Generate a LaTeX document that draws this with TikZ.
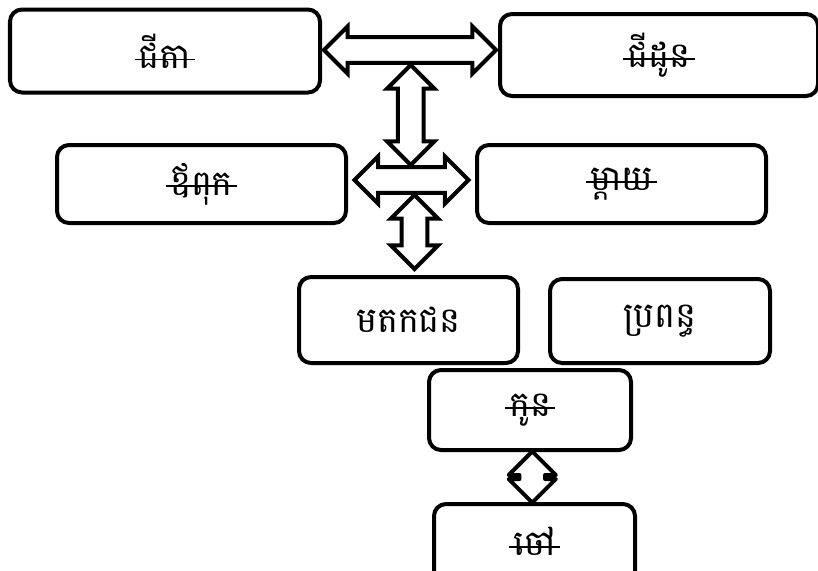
\documentclass[tikz,border=0pt]{standalone}
\usepackage{fontspec}
\newfontfamily\khmer[Script=Khmer]{Battambang}
\usetikzlibrary{positioning,calc,shapes.arrows}

\newsavebox\kstrikebox
\newcommand\kstrike[1]{\sbox\kstrikebox{#1}\makebox[0pt][l]{\hspace{-3pt}\raisebox{0.22em}{\rule{\dimexpr\wd\kstrikebox+6pt\relax}{1.4pt}}}\usebox\kstrikebox}

\tikzset{
	kbox/.style={draw, line width=0.1cm, rounded corners=0.3cm, inner sep=0pt, font=\khmer\fontsize{25}{30}\selectfont},
	karrow/.style={draw, double arrow, line width=0.1cm, inner sep=0.27cm, double arrow head extend=0.27cm}
}

\begin{document}
\begin{tikzpicture}
		\useasboundingbox (0,0) rectangle (20.45,-14.25);
		\node[kbox, minimum width=7.75cm, minimum height=2.075cm] (jita) at (4.125,-1.275) {\kstrike{ជីតា}};
		\node[kbox, minimum width=7.95cm, minimum height=2.05cm] (jidaun) at (16.475,-1.375) {\kstrike{ជីដូន}};
		\node[kbox, minimum width=7.225cm, minimum height=1.95cm] (ovpuk) at (5.0375,-4.6) {\kstrike{ឪពុក}};
		\node[kbox, minimum width=7.225cm, minimum height=1.95cm] (mday) at (15.5375,-4.6) {\kstrike{ម្តាយ}};
		\node[kbox, minimum width=5.475cm, minimum height=2.15cm] (morodok) at (10.2125,-8) {មតកជន};
		\node[kbox, minimum width=5.5cm, minimum height=2.1cm] (propon) at (16.5,-8.025) {ប្រពន្ធ};
		\node[kbox, minimum width=5.05cm, minimum height=2cm] (kon) at (13.25,-10.25) {\kstrike{កូន}};
		\node[kbox, minimum width=5.025cm, minimum height=2cm] (chau) at (13.3625,-13.6) {\raisebox{4pt}{\kstrike{ចៅ}}};
		
		% block arrows between the boxes
		\node[karrow, minimum height=4.3cm] (a1) at ([yshift=0.075cm]$(jita.east)!0.5!(jidaun.west)$) {};
		\node[karrow, minimum height=2.85cm] (a3) at ([yshift=0.1cm]$(ovpuk.east)!0.5!(mday.west)$) {};
		\node[karrow, minimum height=2.5cm, shape border rotate=90] (a2) at ($(a1)!0.5!(a3)$) {};
		\node[karrow, minimum height=1.85cm, shape border rotate=90] (a4) at ([xshift=0.15cm, yshift=1.075cm]morodok.north) {};
		\node[karrow, minimum height=1.1cm, shape border rotate=90, line join=round] (a5) at ($(kon.south)!0.5!(chau.north)$) {};
	\end{tikzpicture}
\end{document}
